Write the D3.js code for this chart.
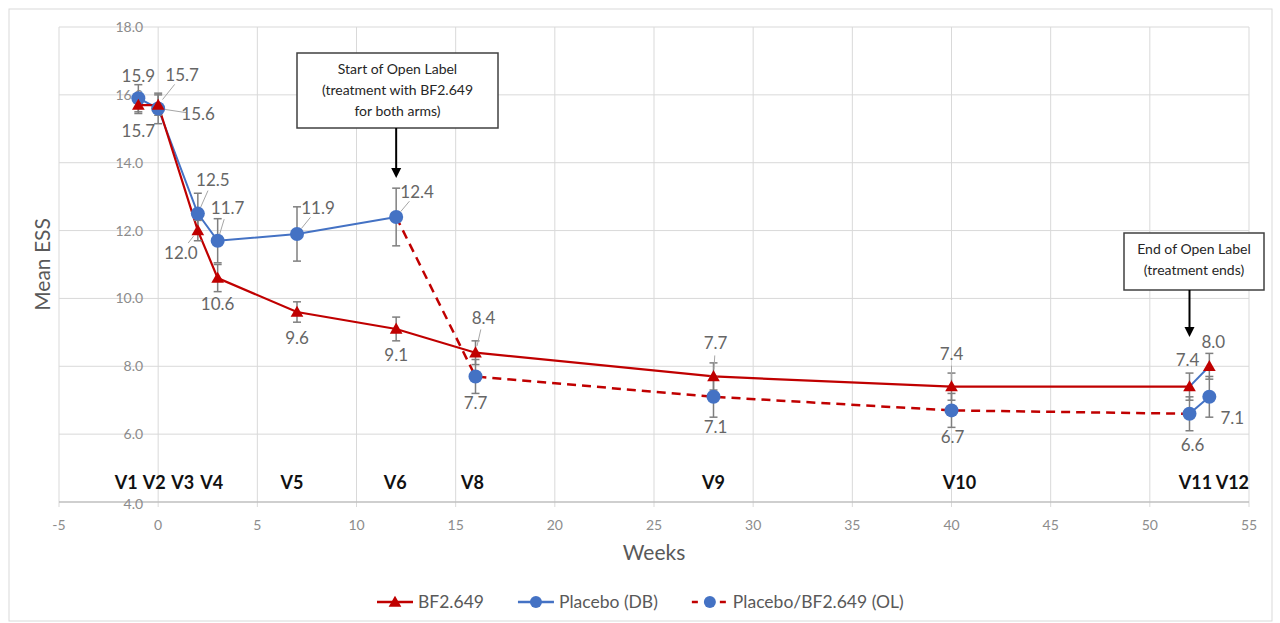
<!DOCTYPE html>
<html>
<head>
<meta charset="utf-8">
<script src="https://cdnjs.cloudflare.com/ajax/libs/d3/7.8.5/d3.min.js"></script>
<style>
  body { margin: 0; background: #fff; }
  svg { display: block; font-family: Lato, "Open Sans", sans-serif; }
</style>
</head>
<body>
<div id="chart"></div>
<script>
// visits and weeks
var visits = ["V1", "V2", "V3", "V4", "V5", "V6", "V8", "V9", "V10", "V11", "V12"];
var weeks = [-1, 0, 2, 3, 7, 12, 16, 28, 40, 52, 53];

// BF2.649 arm, all visits
var bf2649 = [15.7, 15.7, 12.0, 10.6, 9.6, 9.1, 8.4, 7.7, 7.4, 7.4, 8.0];
var bf2649Err = [0.25, 0.3, 0.3, 0.4, 0.3, 0.35, 0.35, 0.4, 0.4, 0.4, 0.38];

// placebo double blind, V1..V6
var placeboDB = [15.9, 15.6, 12.5, 11.7, 11.9, 12.4];
var placeboDBErr = [0.4, 0.45, 0.6, 0.65, 0.8, 0.85];

// placebo -> BF2.649 open label, V6..V12 (V6 is the shared start point)
var placeboOL = [12.4, 7.7, 7.1, 6.7, 6.6, 7.1];
var placeboOLErr = [null, 0.5, 0.6, 0.5, 0.5, 0.6];

var xTicks = d3.range(-5, 56, 5);
var yTicks = [4, 6, 8, 10, 12, 14, 16, 18];

// label nudges (pixels) - layout only
var bfLabelPos = [[0, 26, 0], [24, -30, 1], [-17, 22, 1], [0, 26, 0], [0, 26, 0], [0, 26, 0],
                  [8, -35, 1], [2, -33, 1], [0, -33, 1], [-2, -27, 0], [4, -24, 0]];
var dbLabelPos = [[0, -22, 0], [40, 6, 1], [15, -34, 1], [10, -33, 1], [21, -26, 1], [21, -25, 1]];
var olLabelPos = [null, [0, 27, 0], [2, 30, 0], [1, 27, 0], [3, 31, 0], [23, 21, 0]];
var visitNudge = [-12, -4, -15, -6, -5, -1, -3, 0, 8, 6, 23];

var width = 1280, height = 623;
var red = "#C00000", blue = "#4472C4";

var svg = d3.select("#chart").append("svg")
  .attr("width", width).attr("height", height);

// outer chart border
svg.append("rect")
  .attr("x", 9).attr("y", 9).attr("width", 1263).attr("height", 612)
  .attr("fill", "#fff").attr("stroke", "#D9D9D9");

var x = d3.scaleLinear().domain([-5, 55]).range([59, 1249]);
var y = d3.scaleLinear().domain([4, 18]).range([502, 27]);

var g = svg.append("g");

// grid
g.selectAll(".vgrid").data(xTicks).enter().append("line")
  .attr("x1", function(d){ return x(d); }).attr("x2", function(d){ return x(d); })
  .attr("y1", y(18)).attr("y2", y(4) + 5)
  .attr("stroke", "#D9D9D9").attr("stroke-width", 1);
g.selectAll(".hgrid").data(yTicks.slice(1)).enter().append("line")
  .attr("x1", x(-5)).attr("x2", x(55))
  .attr("y1", function(d){ return y(d); }).attr("y2", function(d){ return y(d); })
  .attr("stroke", "#D9D9D9").attr("stroke-width", 1);
g.append("line")
  .attr("x1", x(-5)).attr("x2", x(55)).attr("y1", y(4)).attr("y2", y(4))
  .attr("stroke", "#BFBFBF").attr("stroke-width", 1.5);

// x tick labels
g.selectAll(".xt").data(xTicks).enter().append("text")
  .attr("x", function(d){ return x(d); }).attr("y", 530)
  .attr("text-anchor", "middle").attr("font-size", 14).attr("fill", "#8C8C8C")
  .text(function(d){ return d; });

// y tick labels sit by the x = 0 line
g.selectAll(".yt").data(yTicks).enter().append("text")
  .attr("x", x(0) - 15).attr("y", function(d){ return y(d) + (d === 4 ? 7 : 5); })
  .attr("text-anchor", "end").attr("font-size", 14).attr("fill", "#8C8C8C")
  .text(function(d){ return d3.format(".1f")(d); });

// axis titles
svg.append("text")
  .attr("transform", "translate(50," + ((y(4) + y(18)) / 2) + ") rotate(-90)")
  .attr("text-anchor", "middle").attr("font-size", 21).attr("fill", "#595959")
  .text("Mean ESS");
svg.append("text")
  .attr("x", x(25)).attr("y", 560)
  .attr("text-anchor", "middle").attr("font-size", 21).attr("fill", "#595959")
  .text("Weeks");

// visit labels
g.selectAll(".visit").data(visits).enter().append("text")
  .attr("x", function(d, i){ return x(weeks[i]) + visitNudge[i]; })
  .attr("y", 489)
  .attr("text-anchor", "middle").attr("font-size", 18).attr("font-weight", "bold")
  .attr("fill", "#111")
  .text(function(d){ return d; });

// series point arrays
var bfPts = bf2649.map(function(v, i){ return {w: weeks[i], v: v, e: bf2649Err[i], lp: bfLabelPos[i]}; });
var dbPts = placeboDB.map(function(v, i){ return {w: weeks[i], v: v, e: placeboDBErr[i], lp: dbLabelPos[i]}; });
var olPts = placeboOL.map(function(v, i){ return {w: weeks[i + 5], v: v, e: placeboOLErr[i], lp: olLabelPos[i]}; });

var line = d3.line().x(function(d){ return x(d.w); }).y(function(d){ return y(d.v); });

// lines
g.append("path").datum(olPts.slice(0, 5))
  .attr("d", line).attr("fill", "none").attr("stroke", red)
  .attr("stroke-width", 2.5).attr("stroke-dasharray", "9,6");
g.append("path").datum(olPts.slice(4))
  .attr("d", line).attr("fill", "none").attr("stroke", blue).attr("stroke-width", 2);
g.append("path").datum(dbPts)
  .attr("d", line).attr("fill", "none").attr("stroke", blue).attr("stroke-width", 2);
g.append("path").datum(bfPts.slice(0, 10))
  .attr("d", line).attr("fill", "none").attr("stroke", red).attr("stroke-width", 2.2);
g.append("path").datum(bfPts.slice(9))
  .attr("d", line).attr("fill", "none").attr("stroke", blue).attr("stroke-width", 2);

// error bars
function errorBars(pts){
  var eb = g.append("g").selectAll("g").data(pts.filter(function(d){ return d.e != null; }))
    .enter().append("g").attr("stroke", "#7F7F7F").attr("stroke-width", 1.5);
  eb.append("line")
    .attr("x1", function(d){ return x(d.w); }).attr("x2", function(d){ return x(d.w); })
    .attr("y1", function(d){ return y(d.v + d.e); }).attr("y2", function(d){ return y(d.v - d.e); });
  eb.append("line")
    .attr("x1", function(d){ return x(d.w) - 4; }).attr("x2", function(d){ return x(d.w) + 4; })
    .attr("y1", function(d){ return y(d.v + d.e); }).attr("y2", function(d){ return y(d.v + d.e); });
  eb.append("line")
    .attr("x1", function(d){ return x(d.w) - 4; }).attr("x2", function(d){ return x(d.w) + 4; })
    .attr("y1", function(d){ return y(d.v - d.e); }).attr("y2", function(d){ return y(d.v - d.e); });
}
errorBars(bfPts);
errorBars(dbPts);
errorBars(olPts);

// markers
var tri = d3.symbol().type(d3.symbolTriangle).size(70);
g.selectAll(".olm").data(olPts.slice(1)).enter().append("circle")
  .attr("cx", function(d){ return x(d.w); }).attr("cy", function(d){ return y(d.v); })
  .attr("r", 7).attr("fill", blue);
g.selectAll(".dbm").data(dbPts).enter().append("circle")
  .attr("cx", function(d){ return x(d.w); }).attr("cy", function(d){ return y(d.v); })
  .attr("r", 7).attr("fill", blue);
g.selectAll(".bfm").data(bfPts).enter().append("path")
  .attr("d", tri)
  .attr("transform", function(d){ return "translate(" + x(d.w) + "," + (y(d.v) + 1) + ")"; })
  .attr("fill", red);

// data labels with leader lines
function labels(pts){
  var lp = pts.filter(function(d){ return d.lp != null; });
  g.append("g").selectAll("line").data(lp.filter(function(d){ return d.lp[2]; }))
    .enter().append("line")
    .attr("stroke", "#A6A6A6").attr("stroke-width", 1)
    .each(function(d){
      var dx = d.lp[0], dy = d.lp[1], len = Math.sqrt(dx * dx + dy * dy);
      var ux = dx / len, uy = dy / len;
      d3.select(this)
        .attr("x1", x(d.w) + ux * 7).attr("y1", y(d.v) + uy * 7)
        .attr("x2", x(d.w) + ux * (len - 12)).attr("y2", y(d.v) + uy * (len - 12));
    });
  g.append("g").selectAll("text").data(lp).enter().append("text")
    .attr("x", function(d){ return x(d.w) + d.lp[0]; })
    .attr("y", function(d){ return y(d.v) + d.lp[1] + 6; })
    .attr("text-anchor", "middle").attr("font-size", 17).attr("fill", "#666")
    .text(function(d){ return d3.format(".1f")(d.v); });
}
labels(bfPts);
labels(dbPts);
labels(olPts);

// annotation callouts
function callout(week, boxX, boxY, boxW, boxH, arrowEnd, lines){
  var c = svg.append("g");
  c.append("rect").attr("x", boxX).attr("y", boxY).attr("width", boxW).attr("height", boxH)
    .attr("fill", "#fff").attr("stroke", "#404040").attr("stroke-width", 1.5);
  c.selectAll("text").data(lines).enter().append("text")
    .attr("x", boxX + boxW / 2).attr("y", function(d, i){ return boxY + 21 + i * 21; })
    .attr("text-anchor", "middle").attr("font-size", 14).attr("fill", "#262626")
    .text(function(d){ return d; });
  c.append("line")
    .attr("x1", x(week)).attr("x2", x(week))
    .attr("y1", boxY + boxH).attr("y2", arrowEnd - 8)
    .attr("stroke", "#000").attr("stroke-width", 2);
  c.append("path")
    .attr("d", "M" + (x(week) - 5) + "," + (arrowEnd - 10) + "L" + (x(week) + 5) + "," + (arrowEnd - 10) +
      "L" + x(week) + "," + arrowEnd + "Z")
    .attr("fill", "#000");
}
callout(12, 297, 53, 201, 75, 178, ["Start of Open Label", "(treatment with BF2.649", "for both arms)"]);
callout(52, 1124, 233, 140, 57, 337, ["End of Open Label", "(treatment ends)"]);

// legend
var legendItems = [
  {label: "BF2.649", color: red, dash: null, marker: "tri"},
  {label: "Placebo (DB)", color: blue, dash: null, marker: "circle"},
  {label: "Placebo/BF2.649 (OL)", color: red, dash: "6,8", marker: "circle"}
];
var lx = 377, ly = 602;
legendItems.forEach(function(it){
  var lg = svg.append("g").attr("transform", "translate(" + lx + "," + ly + ")");
  lg.append("line").attr("x1", 0).attr("x2", 36).attr("y1", 0).attr("y2", 0)
    .attr("stroke", it.marker === "circle" && !it.dash ? blue : it.color)
    .attr("stroke-width", 2.5).attr("stroke-dasharray", it.dash);
  if(it.marker === "tri"){
    lg.append("path").attr("d", tri).attr("transform", "translate(18,1)").attr("fill", red);
  } else {
    lg.append("circle").attr("cx", 18).attr("cy", 0).attr("r", 6).attr("fill", blue);
  }
  var t = lg.append("text").attr("x", 41).attr("y", 6)
    .attr("font-size", 17.5).attr("fill", "#595959").text(it.label);
  lx += 41 + t.node().getComputedTextLength() + 34;
});
</script>
</body>
</html>
